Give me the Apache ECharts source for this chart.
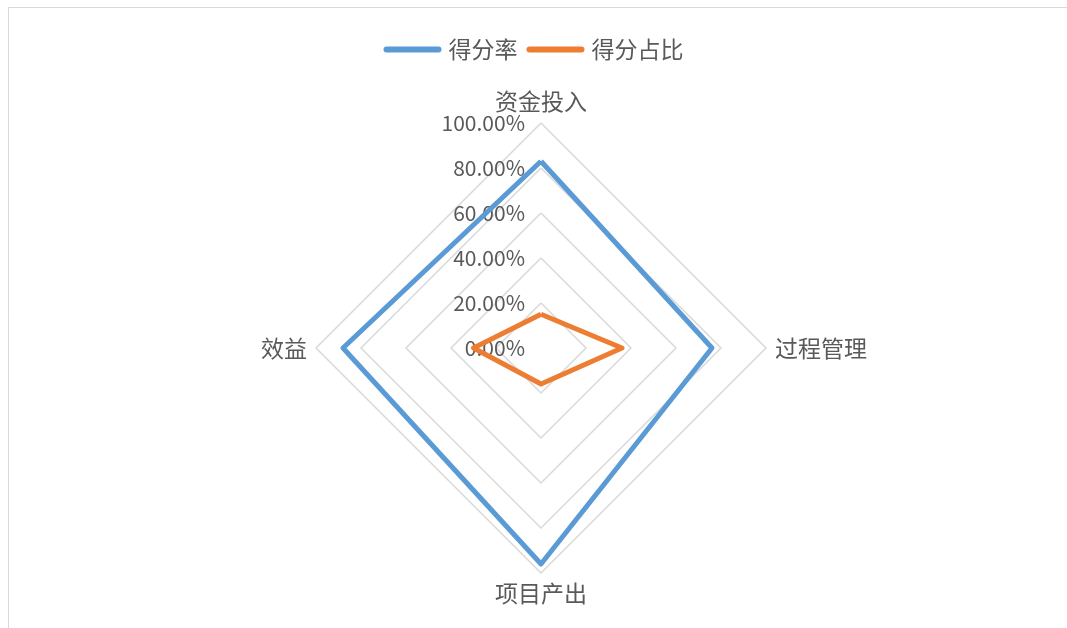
<!DOCTYPE html>
<html>
<head>
<meta charset="utf-8">
<script src="https://cdn.jsdelivr.net/npm/echarts@6/dist/echarts.min.js"></script>
<style>
  html, body { margin: 0; padding: 0; background: #fff; }
  #main { width: 1067px; height: 628px; }
</style>
</head>
<body>
<div id="main"></div>
<script>
// 指标与数据（按 ECharts 雷达图逆时针顺序：上、左、下、右）
var indicators = ['资金投入', '效益', '项目产出', '过程管理'];
var scoreRate = [0.83, 0.88, 0.96, 0.76];   // 得分率
var scoreShare = [0.15, 0.30, 0.16, 0.36];  // 得分占比
var seriesNames = ['得分率', '得分占比'];

var chartDom = document.getElementById('main');
var myChart = echarts.init(chartDom);

var textColor = '#595959';
var fontFamily = '"Noto Sans CJK SC", "Microsoft YaHei", sans-serif';
// 圆头线段图例
var lineIcon = 'path://M3,0 L55,0 A3,3 0 0 1 55,6 L3,6 A3,3 0 0 1 3,0 Z';

var option = {
  backgroundColor: '#fff',
  textStyle: { fontFamily: fontFamily },
  graphic: [
    {
      type: 'rect',
      shape: { x: 8.5, y: 7.5, width: 1070, height: 640 },
      style: { fill: 'none', stroke: '#d9d9d9', lineWidth: 1 },
      silent: true
    }
  ],
  legend: {
    data: seriesNames,
    top: 33,
    left: 'center',
    icon: lineIcon,
    itemWidth: 58,
    itemHeight: 6,
    itemGap: 9,
    textStyle: { color: textColor, fontSize: 23, fontFamily: fontFamily, padding: [0, 0, 0, 2] }
  },
  radar: {
    center: [541, 348],
    radius: 225,
    shape: 'polygon',
    splitNumber: 5,
    startAngle: 90,
    nameGap: 9,
    axisName: { color: textColor, fontSize: 23, fontFamily: fontFamily },
    indicator: indicators.map(function (name, i) {
      var ind = { name: name, min: 0, max: 1 };
      if (i === 0) {
        // 只在第一根轴上显示刻度标签
        ind.axisLabel = {
          show: true,
          color: textColor,
          fontSize: 21,
          margin: 16,
          fontFamily: fontFamily,
          formatter: function (v) { return (v * 100).toFixed(2) + '%'; }
        };
      }
      return ind;
    }),
    axisLine: { show: false },
    axisTick: { show: false },
    axisLabel: { show: false },
    splitLine: { lineStyle: { color: '#d9d9d9', width: 1.5 } },
    splitArea: { show: false }
  },
  series: [
    {
      type: 'radar',
      symbol: 'none',
      data: [
        {
          name: seriesNames[0],
          value: scoreRate,
          lineStyle: { color: '#5b9bd5', width: 5 },
          itemStyle: { color: '#5b9bd5' }
        },
        {
          name: seriesNames[1],
          value: scoreShare,
          lineStyle: { color: '#ed7d31', width: 5 },
          itemStyle: { color: '#ed7d31' }
        }
      ]
    }
  ]
};

myChart.setOption(option);
</script>
</body>
</html>
